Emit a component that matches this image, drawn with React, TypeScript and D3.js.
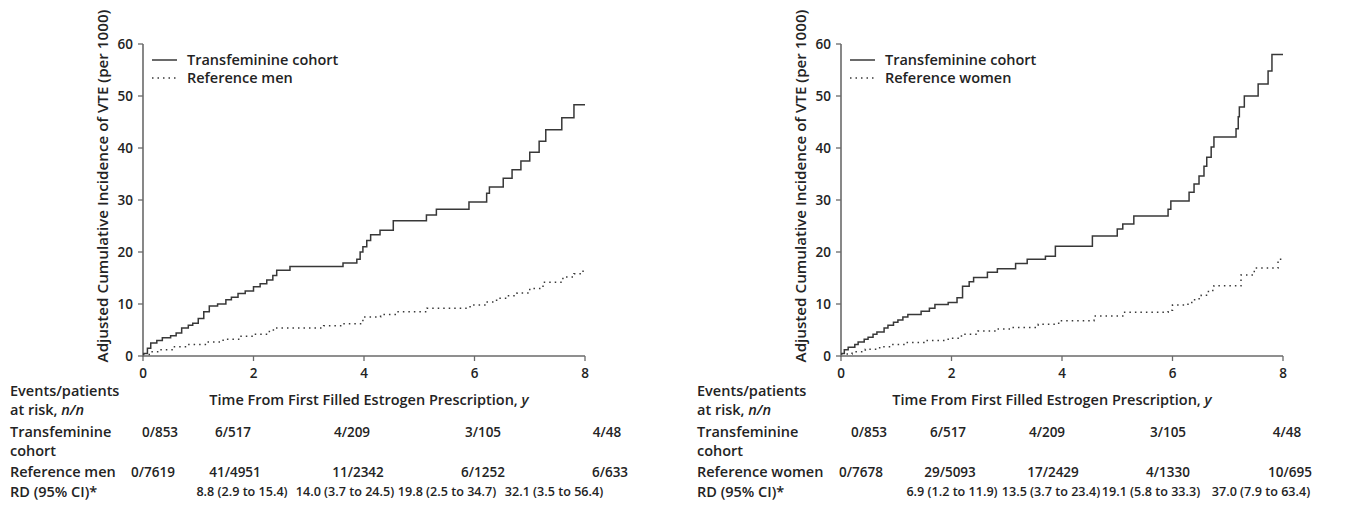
import React from 'react';
import * as d3 from 'd3';

// tick values
const timeTicks = [0, 2, 4, 6, 8];
const incidenceTicks = [0, 10, 20, 30, 40, 50, 60];

// step curves: [years, adjusted cumulative incidence per 1000]
const transfemVsMen: [number, number][] = [
  [0, 0.5], [0.08, 1.5], [0.14, 2.5], [0.25, 3.0], [0.35, 3.5], [0.5, 3.9], [0.6, 4.4], [0.7, 5.4],
  [0.82, 5.9], [0.9, 6.3], [1.0, 7.2], [1.1, 8.5], [1.2, 9.6], [1.35, 10.0], [1.5, 10.8], [1.6, 11.3],
  [1.72, 12.0], [1.85, 12.5], [2.0, 13.3], [2.12, 13.9], [2.24, 14.6], [2.35, 15.5], [2.42, 16.5],
  [2.66, 17.2], [3.62, 17.9], [3.87, 18.6], [3.93, 20.0], [3.98, 21.0], [4.05, 22.2], [4.12, 23.3],
  [4.29, 24.2], [4.53, 26.0], [5.13, 27.1], [5.31, 28.2], [5.9, 29.6], [6.22, 31.3], [6.27, 32.5],
  [6.52, 34.2], [6.68, 35.8], [6.84, 37.5], [7.0, 39.2], [7.17, 41.3], [7.29, 43.5], [7.58, 45.8],
  [7.8, 48.3], [8.0, 48.3]
];
const referenceMen: [number, number][] = [
  [0, 0.3], [0.15, 0.8], [0.3, 1.2], [0.54, 1.8], [0.8, 2.2], [1.16, 2.7], [1.45, 3.2], [1.75, 3.8],
  [2.0, 4.2], [2.27, 4.7], [2.36, 5.4], [3.27, 5.8], [3.6, 6.2], [3.98, 7.5], [4.3, 8.0], [4.6, 8.5],
  [5.14, 9.2], [5.92, 9.8], [6.23, 10.4], [6.4, 11.1], [6.6, 11.6], [6.77, 12.1], [7.0, 13.0],
  [7.24, 14.2], [7.6, 15.2], [7.8, 15.8], [7.95, 16.3], [8.0, 16.3]
];
const transfemVsWomen: [number, number][] = [
  [0, 0.5], [0.06, 1.2], [0.13, 1.7], [0.25, 2.2], [0.31, 2.7], [0.42, 3.2], [0.49, 3.6], [0.58, 4.2],
  [0.65, 4.6], [0.78, 5.4], [0.85, 5.9], [0.95, 6.5], [1.03, 6.9], [1.12, 7.5], [1.21, 8.0], [1.45, 8.6],
  [1.6, 9.2], [1.7, 9.9], [1.94, 10.3], [2.1, 11.2], [2.2, 13.4], [2.32, 14.3], [2.4, 15.1], [2.65, 16.1],
  [2.83, 16.8], [3.16, 17.8], [3.37, 18.6], [3.7, 19.2], [3.88, 21.1], [4.55, 23.1], [5.0, 24.4],
  [5.1, 25.4], [5.3, 26.9], [5.92, 28.2], [5.97, 29.8], [6.3, 31.5], [6.39, 33.1], [6.48, 34.6],
  [6.57, 36.5], [6.62, 38.2], [6.7, 40.2], [6.75, 42.1], [7.15, 43.7], [7.19, 46.0], [7.21, 47.9],
  [7.3, 50.0], [7.55, 52.3], [7.73, 54.8], [7.8, 58.0], [8.0, 58.0]
];
const referenceWomen: [number, number][] = [
  [0, 0.4], [0.2, 0.8], [0.44, 1.3], [0.7, 1.8], [0.9, 2.2], [1.16, 2.6], [1.5, 3.0], [1.94, 3.4],
  [2.18, 4.2], [2.48, 4.8], [2.8, 5.2], [3.08, 5.5], [3.57, 6.1], [3.94, 6.8], [4.58, 7.7], [5.1, 8.4],
  [5.92, 8.8], [6.0, 9.8], [6.28, 10.3], [6.4, 11.0], [6.52, 11.7], [6.65, 12.6], [6.75, 13.5],
  [7.24, 15.6], [7.48, 16.9], [7.91, 18.6], [8.0, 18.6]
];

// at-risk table
const riskTransfem = ['0/853', '6/517', '4/209', '3/105', '4/48'];
const riskMen = ['0/7619', '41/4951', '11/2342', '6/1252', '6/633'];
const riskWomen = ['0/7678', '29/5093', '17/2429', '4/1330', '10/695'];
const rdMen = ['8.8 (2.9 to 15.4)', '14.0 (3.7 to 24.5)', '19.8 (2.5 to 34.7)', '32.1 (3.5 to 56.4)'];
const rdWomen = ['6.9 (1.2 to 11.9)', '13.5 (3.7 to 23.4)', '19.1 (5.8 to 33.3)', '37.0 (7.9 to 63.4)'];

const FONT = "'Open Sans', sans-serif";
const INK = '#232323';
const LINE = '#383838';
const AXIS = '#6a6a6a';

type PanelProps = {
  left: number;
  labelX: number;
  refLabel: string;
  cohort: [number, number][];
  reference: [number, number][];
  refRisk: string[];
  rd: string[];
  titleShift: number;
  colTf: number[];
  colRef: number[];
  colRd: number[];
};

function Panel(p: PanelProps) {
  const x = d3.scaleLinear().domain([0, 8]).range([p.left + 143, p.left + 585]);
  const y = d3.scaleLinear().domain([0, 60]).range([356, 44]);
  const line = d3.line<[number, number]>()
    .x(d => x(d[0]))
    .y(d => y(d[1]))
    .curve(d3.curveStepAfter);
  const x0 = x(0);
  const labelX = p.left + p.labelX;
  const rows = { ev: 391, risk: 410, tf: 432, coh: 451, ref: 472, rd: 492 };
  const txt = { fontFamily: FONT, fontSize: 14.5, fontWeight: 600, fill: INK } as const;
  const num = { ...txt, fontSize: 13.5 };

  return (
    <g>
      {/* y axis */}
      <line x1={x0} x2={x0} y1={y(60)} y2={y(0) + 1} stroke={AXIS} strokeWidth={1.6} />
      {incidenceTicks.map(t => (
        <g key={'y' + t}>
          <line x1={x0 - 5} x2={x0} y1={y(t)} y2={y(t)} stroke={AXIS} strokeWidth={1.3} />
          <text x={x0 - 10} y={y(t)} dy="0.35em" textAnchor="end" {...num}>{t}</text>
        </g>
      ))}
      {/* x axis */}
      <line x1={x0} x2={x(8)} y1={y(0)} y2={y(0)} stroke={AXIS} strokeWidth={1.6} />
      {timeTicks.map(t => (
        <g key={'x' + t}>
          <line x1={x(t)} x2={x(t)} y1={y(0)} y2={y(0) + 5} stroke={AXIS} strokeWidth={1.3} />
          <text x={x(t)} y={373} dy="0.35em" textAnchor="middle" {...num}>{t}</text>
        </g>
      ))}
      <text
        transform={`translate(${p.left + 103},${186}) rotate(-90)`}
        dy="0.35em"
        textAnchor="middle"
        {...txt}
        fontSize={15.2}
      >
        Adjusted Cumulative Incidence of VTE (per 1000)
      </text>
      <text x={(x(0) + x(8)) / 2 + p.titleShift} y={400} dy="0.35em" textAnchor="middle" {...txt}>
        Time From First Filled Estrogen Prescription, <tspan fontStyle="italic">y</tspan>
      </text>

      {/* curves */}
      <path d={line(p.reference) || ''} fill="none" stroke={LINE} strokeWidth={1.5} strokeDasharray="1.5 4" />
      <path d={line(p.cohort) || ''} fill="none" stroke={LINE} strokeWidth={1.5} />

      {/* legend */}
      <line x1={x0 + 9} x2={x0 + 34} y1={60} y2={60} stroke={LINE} strokeWidth={1.5} />
      <text x={x0 + 44} y={60} dy="0.35em" {...txt}>Transfeminine cohort</text>
      <line x1={x0 + 9} x2={x0 + 34} y1={78} y2={78} stroke={LINE} strokeWidth={1.5} strokeDasharray="1.5 4" />
      <text x={x0 + 44} y={78} dy="0.35em" {...txt}>{p.refLabel}</text>

      {/* at-risk table */}
      <text x={labelX} y={rows.ev} dy="0.35em" {...txt}>Events/patients</text>
      <text x={labelX} y={rows.risk} dy="0.35em" {...txt}>
        at risk, <tspan fontStyle="italic">n/n</tspan>
      </text>
      <text x={labelX} y={rows.tf} dy="0.35em" {...txt}>Transfeminine</text>
      <text x={labelX} y={rows.coh} dy="0.35em" {...txt}>cohort</text>
      <text x={labelX} y={rows.ref} dy="0.35em" {...txt}>{p.refLabel}</text>
      <text x={labelX} y={rows.rd} dy="0.35em" {...txt}>RD (95% CI)*</text>
      {riskTransfem.map((v, i) => (
        <text key={'tf' + i} x={p.left + p.colTf[i]} y={rows.tf} dy="0.35em" textAnchor="middle" {...num}>{v}</text>
      ))}
      {p.refRisk.map((v, i) => (
        <text key={'rf' + i} x={p.left + p.colRef[i]} y={rows.ref} dy="0.35em" textAnchor="middle" {...num}>{v}</text>
      ))}
      {p.rd.map((v, i) => (
        <text key={'rd' + i} x={p.left + p.colRd[i]} y={rows.rd} dy="0.35em" textAnchor="middle" {...num} fontSize={12.6}>{v}</text>
      ))}
    </g>
  );
}

export default function App() {
  return (
    <svg
      width={1370}
      height={506}
      style={{ position: 'absolute', left: 0, top: 0, background: '#fff' }}
    >
      <Panel
        left={0}
        labelX={10}
        refLabel="Reference men"
        cohort={transfemVsMen}
        reference={referenceMen}
        refRisk={riskMen}
        rd={rdMen}
        titleShift={5}
        colTf={[160, 233, 352, 483, 607]}
        colRef={[153, 235, 358, 483, 610]}
        colRd={[242, 345, 447, 554]}
      />
      <Panel
        left={698}
        labelX={-1}
        refLabel="Reference women"
        cohort={transfemVsWomen}
        reference={referenceWomen}
        refRisk={riskWomen}
        rd={rdWomen}
        titleShift={-10}
        colTf={[171, 250, 349, 470, 589]}
        colRef={[163, 252, 355, 470, 592]}
        colRd={[254, 353, 453, 563]}
      />
    </svg>
  );
}
